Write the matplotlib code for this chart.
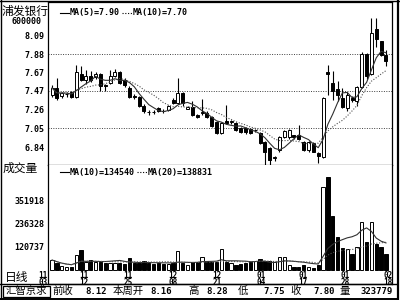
import matplotlib
matplotlib.use('Agg')
import matplotlib.pyplot as plt
from matplotlib.lines import Line2D
from matplotlib.patches import Rectangle
import numpy as np
import pandas as pd

plt.rcParams['font.family'] = ['DejaVu Sans Mono', 'Noto Sans CJK SC']

# daily candles (70 sessions, 11/03 .. 02/18)
opens = [7.42, 7.50, 7.41, 7.43, 7.455, 7.40, 7.66, 7.59, 7.635, 7.62,
         7.66, 7.535, 7.555, 7.635, 7.68, 7.59, 7.50, 7.41, 7.40, 7.30,
         7.235, 7.235, 7.28, 7.245, 7.255, 7.365, 7.33, 7.445, 7.27, 7.29,
         7.20, 7.22, 7.22, 7.18, 7.12, 7.00, 7.13, 7.12, 7.11, 7.05,
         7.05, 7.04, 7.03, 7.00, 6.90, 6.83, 6.72, 6.81, 6.95, 6.95,
         6.975, 6.975, 6.90, 6.81, 6.89, 6.775, 6.73, 7.68, 7.555, 7.49,
         7.39, 7.28, 7.39, 7.36, 7.51, 7.88, 7.66, 8.16, 8.025, 7.87]
highs = [7.53, 7.61, 7.46, 7.45, 7.47, 7.76, 7.75, 7.70, 7.69, 7.68,
         7.67, 7.55, 7.70, 7.71, 7.69, 7.61, 7.52, 7.43, 7.41, 7.32,
         7.25, 7.25, 7.29, 7.26, 7.31, 7.39, 7.61, 7.45, 7.30, 7.35,
         7.21, 7.38, 7.24, 7.19, 7.13, 7.12, 7.31, 7.14, 7.12, 7.06,
         7.06, 7.05, 7.04, 7.01, 6.91, 6.84, 6.74, 6.96, 7.03, 7.04,
         6.98, 7.09, 6.91, 6.91, 6.90, 6.78, 7.40, 7.76, 7.69, 7.58,
         7.50, 7.46, 7.41, 7.52, 7.90, 7.89, 8.28, 8.28, 8.03, 7.93]
lows = [7.40, 7.37, 7.39, 7.40, 7.39, 7.39, 7.58, 7.55, 7.57, 7.60,
        7.47, 7.47, 7.54, 7.62, 7.55, 7.51, 7.39, 7.38, 7.29, 7.22,
        7.20, 7.21, 7.23, 7.22, 7.24, 7.32, 7.32, 7.30, 7.26, 7.19,
        7.16, 7.20, 7.17, 7.06, 6.99, 6.99, 7.10, 7.10, 7.02, 7.00,
        6.99, 6.99, 7.01, 6.88, 6.64, 6.64, 6.69, 6.79, 6.94, 6.93,
        6.93, 6.92, 6.80, 6.79, 6.78, 6.66, 6.72, 7.42, 7.37, 7.36,
        7.28, 7.24, 7.34, 7.30, 7.50, 7.60, 7.64, 7.96, 7.86, 7.75]
closes = [7.50, 7.39, 7.445, 7.435, 7.40, 7.68, 7.59, 7.635, 7.59, 7.66,
          7.52, 7.525, 7.635, 7.68, 7.56, 7.53, 7.40, 7.40, 7.30, 7.24,
          7.23, 7.23, 7.24, 7.24, 7.30, 7.33, 7.445, 7.33, 7.29, 7.20,
          7.18, 7.23, 7.18, 7.075, 7.00, 7.11, 7.11, 7.12, 7.03, 7.01,
          7.01, 7.00, 7.03, 6.89, 6.79, 6.70, 6.72, 6.95, 7.02, 7.03,
          6.95, 6.93, 6.81, 6.90, 6.785, 6.74, 7.39, 7.66, 7.465, 7.42,
          7.29, 7.42, 7.37, 7.51, 7.88, 7.635, 8.115, 8.05, 7.87, 7.80]
volumes = [50000, 34000, 20000, 15000, 15000, 75000, 100000, 39000, 50000, 38000,
           40000, 35000, 35000, 35000, 33000, 30000, 62000, 33000, 33000, 45000,
           33000, 28000, 33000, 30000, 30000, 33000, 95000, 33000, 25000, 38000,
           40000, 65000, 38000, 38000, 40000, 105000, 40000, 33000, 25000, 28000,
           33000, 38000, 45000, 55000, 45000, 43000, 40000, 65000, 65000, 25000,
           15000, 15000, 25000, 15000, 12000, 25000, 418000, 468000, 272000, 166000,
           111000, 106000, 80000, 116000, 241000, 141000, 241000, 131000, 116000, 80000]

price_ticks = [8.09, 7.88, 7.67, 7.47, 7.26, 7.05, 6.84]
grid_prices = [7.88, 7.47, 7.05]
vol_ticks = [120737, 236328, 351918]
date_labels = ['11\n03', '11\n12', '11\n25', '12\n08', '12\n21', '01\n04', '01\n17', '01\n28', '02\n18']
date_pos = [-1.9, 6.6, 15.7, 25.0, 34.1, 43.2, 51.9, 60.5, 69.4]

W, H = 400, 300
def fx(x):
    return x / W
def fy(y):
    return 1 - y / H

fig = plt.figure(figsize=(4, 3), dpi=100)
fig.patch.set_facecolor('white')

ax = fig.add_axes([fx(48), fy(165), 344 / W, 163 / H])
axv = fig.add_axes([fx(48), fy(284), 344 / W, 119 / H])

o = np.array(opens)
c = np.array(closes)
idx = np.arange(len(c))
up = c >= o
fill = np.where(up, 'white', 'black')

# candles
ax.vlines(idx, lows, highs, color='black', lw=0.8, zorder=2)
ax.bar(idx, np.maximum(np.abs(c - o), 0.006), bottom=np.minimum(o, c), width=0.62,
       color=fill, edgecolor='black', lw=0.7, zorder=3)
ma5 = pd.Series(closes).rolling(5, min_periods=1).mean()
ma10 = pd.Series(closes).rolling(10, min_periods=1).mean()
ax.plot(idx, ma5, color='#303030', lw=0.8, zorder=4)
ax.plot(idx, ma10, color='#505050', lw=0.8, ls=(0, (1, 1.5)), zorder=4)
for g in grid_prices:
    ax.axhline(g, color='#404040', lw=0.7, ls=(0, (1, 1.5)), zorder=1)

ax.set_xlim(-0.83, 70.25)
ax.set_ylim(7.88 - 111 / 89.5, 7.88 + 52 / 89.5)
ax.set_xticks([])
ax.set_yticks(price_ticks)
ax.set_yticklabels(['%.2f' % p for p in price_ticks])
ax.tick_params(axis='y', length=0, pad=2.5, labelsize=6)
for t in ax.get_yticklabels():
    t.set_fontweight('bold')
for s in ax.spines.values():
    s.set_linewidth(0.9)

# volume
axv.bar(idx, volumes, width=0.68, color=fill, edgecolor='black', lw=0.7, zorder=3)
vma10 = pd.Series(volumes).rolling(10, min_periods=1).mean()
vma20 = pd.Series(volumes).rolling(20, min_periods=1).mean()
axv.plot(idx, vma10, color='#303030', lw=0.8, zorder=4)
axv.plot(idx, vma20, color='#505050', lw=0.8, ls=(0, (1, 1.5)), zorder=4)
axv.set_xlim(-0.83, 70.25)
axv.set_ylim(-14 * 5031, 105 * 5031)
axv.set_xticks([])
axv.set_yticks(vol_ticks)
axv.set_yticklabels([str(v) for v in vol_ticks])
axv.tick_params(axis='y', length=0, pad=2.5, labelsize=6)
for t in axv.get_yticklabels():
    t.set_fontweight('bold')
axv.spines['top'].set_visible(False)
for s in ['left', 'right', 'bottom']:
    axv.spines[s].set_linewidth(0.9)
for p, lab in zip(date_pos, date_labels):
    axv.text(p, 0.046, lab, transform=axv.get_xaxis_transform(), ha='center', va='center',
             fontsize=5.5, fontweight='bold', linespacing=0.72, clip_on=False, zorder=5)

# frame
def fline(x0, y0, x1, y1, lw=1.0, **kw):
    fig.add_artist(Line2D([fx(x0), fx(x1)], [fy(y0), fy(y1)], color='black', lw=lw, **kw))

fline(0, 1, 399, 1)
fline(1, 0, 1, 300)
fline(0, 284, 397, 284)
fline(0, 298.5, 398, 298.5, lw=1.4)
fline(397.5, 0, 397.5, 300, lw=1.6)
fig.add_artist(Rectangle((fx(3), fy(297)), 47 / W, 11 / H, fill=False, ec='black', lw=0.9))

# legends
fline(60, 13, 69, 13, lw=0.8)
fig.text(fx(70), fy(13), 'MA(5)=7.90', fontsize=6, fontweight='bold', va='center')
fline(122, 13, 132, 13, lw=0.8, ls=(0, (1, 1.5)))
fig.text(fx(133), fy(13), 'MA(10)=7.70', fontsize=6, fontweight='bold', va='center')
fline(60, 172, 69, 172, lw=0.8)
fig.text(fx(70), fy(172), 'MA(10)=134540', fontsize=6, fontweight='bold', va='center')
fline(137, 172, 147, 172, lw=0.8, ls=(0, (1, 1.5)))
fig.text(fx(148), fy(172), 'MA(20)=138831', fontsize=6, fontweight='bold', va='center')

# left column labels
fig.text(fx(25), fy(11), '浦发银行', fontsize=8.5, ha='center', va='center')
fig.text(fx(26), fy(22), '600000', fontsize=6, fontweight='bold', ha='center', va='center')
fig.text(fx(3), fy(168), '成交量', fontsize=8.5, va='center')
fig.text(fx(5), fy(277), '日线', fontsize=8.5, va='center')

# status bar
ys = fy(291)
fig.text(fx(26), ys, '汇智京求', fontsize=7.5, ha='center', va='center')
items = [(52, '前收', 'left'), (107, '8.12', 'right'), (113, '本周开', 'left'),
         (172, '8.16', 'right'), (188, '高', 'left'), (228, '8.28', 'right'),
         (238, '低', 'left'), (285, '7.75', 'right'), (290, '收', 'left'),
         (335, '7.80', 'right'), (340, '量', 'left'), (393, '323779', 'right')]
for x, s, ha in items:
    bold = 'bold' if s[0].isdigit() else 'normal'
    fs = 6.5 if s[0].isdigit() else 7.5
    fig.text(fx(x), ys, s, fontsize=fs, fontweight=bold, ha=ha, va='center')

fig.savefig('out.png', dpi=100)
